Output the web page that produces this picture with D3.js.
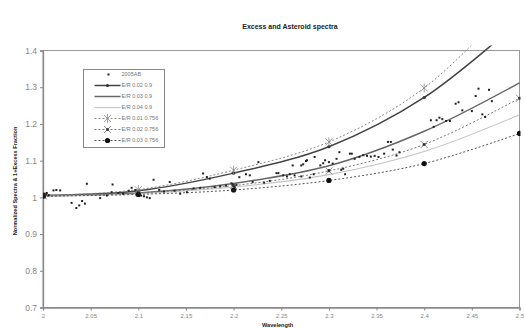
<!DOCTYPE html>
<html>
<head>
<meta charset="utf-8">
<script src="https://cdn.jsdelivr.net/npm/d3@7"></script>
<style>
  body { margin: 0; background: #fff; }
  svg { display: block; font-family: Arial, "Liberation Sans", sans-serif; }
</style>
</head>
<body>
<svg id="chart" width="524" height="328"></svg>
<script>
// asteroid 2005AB measured points [wavelength, value]
var asteroid = [
  [2.000, 1.005], [2.001, 1.010], [2.002, 1.002], [2.003, 1.008], [2.004, 1.012], [2.006, 1.006],
  [2.011, 1.019], [2.014, 1.020], [2.018, 1.019],
  [2.030, 0.985], [2.035, 0.971], [2.038, 0.978], [2.041, 0.990], [2.044, 0.983], [2.046, 1.037],
  [2.060, 0.998], [2.067, 1.005], [2.072, 1.014], [2.073, 1.035], [2.079, 1.012], [2.084, 1.010],
  [2.090, 1.018], [2.093, 1.026], [2.097, 1.020], [2.100, 1.012], [2.103, 1.005], [2.106, 1.003],
  [2.109, 1.000], [2.112, 0.998], [2.116, 1.048], [2.122, 1.020], [2.127, 1.016], [2.133, 1.042],
  [2.138, 1.018], [2.144, 1.010], [2.151, 1.014], [2.158, 1.024], [2.165, 1.026], [2.168, 1.065],
  [2.172, 1.055], [2.175, 1.051], [2.180, 1.028], [2.186, 1.030], [2.192, 1.032], [2.198, 1.038],
  [2.199, 1.035], [2.200, 1.020], [2.201, 1.028], [2.203, 1.034],
  [2.206, 1.055], [2.213, 1.063], [2.217, 1.060], [2.220, 1.042], [2.226, 1.096],
  [2.232, 1.040], [2.238, 1.045], [2.245, 1.066], [2.247, 1.066], [2.252, 1.060], [2.256, 1.057],
  [2.259, 1.063], [2.262, 1.087], [2.264, 1.060], [2.271, 1.087], [2.271, 1.057], [2.273, 1.090],
  [2.276, 1.099], [2.277, 1.101], [2.280, 1.054], [2.284, 1.063], [2.285, 1.110], [2.291, 1.087],
  [2.294, 1.093], [2.296, 1.101], [2.300, 1.074], [2.300, 1.096], [2.304, 1.092], [2.308, 1.105],
  [2.311, 1.123], [2.313, 1.075], [2.315, 1.078], [2.317, 1.063], [2.322, 1.119], [2.324, 1.119],
  [2.327, 1.105], [2.332, 1.110], [2.336, 1.115], [2.340, 1.113], [2.344, 1.111], [2.348, 1.113],
  [2.352, 1.110], [2.358, 1.119], [2.362, 1.151], [2.365, 1.151], [2.367, 1.130], [2.371, 1.114],
  [2.374, 1.123],
  [2.407, 1.210], [2.410, 1.192], [2.413, 1.210], [2.416, 1.217], [2.419, 1.213], [2.423, 1.208],
  [2.427, 1.208], [2.433, 1.255], [2.436, 1.259], [2.440, 1.237], [2.450, 1.235], [2.454, 1.276],
  [2.457, 1.296], [2.461, 1.226], [2.464, 1.219], [2.468, 1.293], [2.471, 1.262]
];

// model curves, sampled every 0.1 um
var modelX = [2.0, 2.1, 2.2, 2.3, 2.4, 2.5];
var er002_09 = [1.005, 1.018, 1.066, 1.138, 1.272, 1.480];
var er003_09 = [1.005, 1.012, 1.038, 1.086, 1.180, 1.312];
var er004_09 = [1.003, 1.010, 1.028, 1.062, 1.125, 1.225];
var er001_0756 = [1.005, 1.021, 1.074, 1.151, 1.298, 1.550];
var er002_0756 = [1.004, 1.012, 1.032, 1.072, 1.144, 1.270];
var er003_0756 = [1.003, 1.008, 1.020, 1.046, 1.092, 1.174];

var seriesNames = ["2005AB", "E/R 0.02 0.9", "E/R 0.03 0.9", "E/R 0.04 0.9",
  "E/R 0.01 0.756", "E/R 0.02 0.756", "E/R 0.03 0.756"];

var xTicks = [2, 2.05, 2.1, 2.15, 2.2, 2.25, 2.3, 2.35, 2.4, 2.45, 2.5];
var yTicks = [0.7, 0.8, 0.9, 1, 1.1, 1.2, 1.3, 1.4];

var svg = d3.select("#chart");
var plotLeft = 43, plotRight = 519.5, plotTop = 50.5, plotBottom = 307.5;

var x = d3.scaleLinear().domain([2, 2.5]).range([plotLeft, plotRight]);
var y = d3.scaleLinear().domain([0.7, 1.4]).range([plotBottom, plotTop]);

var models = [
  { name: seriesNames[1], v: er002_09, stroke: "#444", w: 1.5, dash: null, marker: "dot" },
  { name: seriesNames[2], v: er003_09, stroke: "#666", w: 1.5, dash: null, marker: null },
  { name: seriesNames[3], v: er004_09, stroke: "#c4c4c4", w: 1.1, dash: null, marker: null },
  { name: seriesNames[4], v: er001_0756, stroke: "#8a8a8a", w: 1, dash: "2,2", marker: "star" },
  { name: seriesNames[5], v: er002_0756, stroke: "#777", w: 1, dash: "2,2", marker: "xsq" },
  { name: seriesNames[6], v: er003_0756, stroke: "#555", w: 1, dash: "2,2", marker: "circle" }
];

// frame
svg.append("rect").attr("x", plotLeft).attr("y", plotTop)
  .attr("width", plotRight - plotLeft).attr("height", plotBottom - plotTop)
  .attr("fill", "none").attr("stroke", "#999").attr("stroke-width", 1);

// title + axis titles
svg.append("text").attr("x", 290).attr("y", 29).attr("text-anchor", "middle")
  .style("font-size", "7px").style("font-weight", "bold").attr("fill", "#222")
  .text("Excess and Asteroid spectra");
svg.append("text").attr("transform", "translate(17,181)rotate(-90)")
  .attr("text-anchor", "middle").style("font-size", "5.6px").style("font-weight", "bold")
  .attr("fill", "#222").text("Normalized Spectra & 1+Excess Fraction");
svg.append("text").attr("x", 262).attr("y", 327)
  .style("font-size", "5.6px").style("font-weight", "bold").attr("fill", "#222")
  .text("Wavelength");

// axes
var yAxis = svg.append("g").attr("transform", "translate(" + plotLeft + ",0)")
  .call(d3.axisLeft(y).tickValues(yTicks).tickSize(3).tickFormat(d3.format("")));
yAxis.selectAll("text").style("font-size", "8.5px").attr("fill", "#888").attr("x", -6);
var xAxis = svg.append("g").attr("transform", "translate(0," + plotBottom + ")")
  .call(d3.axisBottom(x).tickValues(xTicks).tickSize(3).tickFormat(d3.format("")));
xAxis.selectAll("text").style("font-size", "6px").attr("fill", "#888").attr("y", 6);
svg.selectAll(".domain").attr("stroke", "#888").attr("stroke-width", 1.3);
svg.selectAll(".tick line").attr("stroke", "#888");

// clip for curves running off the top
svg.append("clipPath").attr("id", "clip").append("rect")
  .attr("x", plotLeft).attr("y", plotTop - 5)
  .attr("width", plotRight - plotLeft + 1).attr("height", plotBottom - plotTop + 5);

var line = d3.line()
  .x(function (d) { return x(d[0]); })
  .y(function (d) { return y(d[1]); })
  .curve(d3.curveCatmullRom);

var plot = svg.append("g").attr("clip-path", "url(#clip)");

function drawMarker(g, type, cx, cy, color) {
  if (type === "dot") {
    g.append("circle").attr("cx", cx).attr("cy", cy).attr("r", 1.6).attr("fill", "#333");
  } else if (type === "circle") {
    g.append("circle").attr("cx", cx).attr("cy", cy).attr("r", 2.6).attr("fill", "#111");
  } else if (type === "star" || type === "xsq") {
    var s = 3.5;
    g.append("path")
      .attr("d", "M" + (cx - s) + "," + (cy - s) + "L" + (cx + s) + "," + (cy + s) +
        "M" + (cx - s) + "," + (cy + s) + "L" + (cx + s) + "," + (cy - s) +
        (type === "star" ? "M" + cx + "," + (cy - s - 1) + "L" + cx + "," + (cy + s + 1) : ""))
      .attr("stroke", color).attr("stroke-width", 0.8).attr("fill", "none");
    if (type === "xsq") {
      g.append("rect").attr("x", cx - 1.3).attr("y", cy - 1.3).attr("width", 2.6).attr("height", 2.6)
        .attr("fill", "#333");
    }
  }
}

models.forEach(function (m) {
  var pts = modelX.map(function (xv, i) { return [xv, m.v[i]]; });
  plot.append("path").datum(pts).attr("d", line)
    .attr("fill", "none").attr("stroke", m.stroke).attr("stroke-width", m.w)
    .attr("stroke-dasharray", m.dash);
  if (m.marker) {
    pts.forEach(function (p) {
      if (p[1] <= 1.4) drawMarker(plot, m.marker, x(p[0]), y(p[1]), m.stroke);
    });
  }
});

// asteroid dots
plot.selectAll(".pt").data(asteroid).enter().append("rect")
  .attr("class", "pt")
  .attr("x", function (d) { return x(d[0]) - 1; })
  .attr("y", function (d) { return y(d[1]) - 1; })
  .attr("width", 2).attr("height", 2)
  .attr("fill", "#222");

// legend
var lg = svg.append("g").attr("transform", "translate(83.5,69.5)");
lg.append("rect").attr("width", 81).attr("height", 78)
  .attr("fill", "#fff").attr("stroke", "#888").attr("stroke-width", 1);
var rowY = function (i) { return 5 + i * 11; };
lg.append("rect").attr("x", 24).attr("y", rowY(0) - 1).attr("width", 2).attr("height", 2).attr("fill", "#222");
lg.append("text").attr("x", 38).attr("y", rowY(0)).attr("dy", "0.35em")
  .style("font-size", "5.5px").attr("fill", "#777").text(seriesNames[0]);
models.forEach(function (m, i) {
  var yy = rowY(i + 1);
  lg.append("line").attr("x1", 11).attr("x2", 37).attr("y1", yy).attr("y2", yy)
    .attr("stroke", m.stroke).attr("stroke-width", m.w).attr("stroke-dasharray", m.dash);
  if (m.marker) drawMarker(lg, m.marker, 24, yy, m.stroke);
  lg.append("text").attr("x", 38).attr("y", yy).attr("dy", "0.35em")
    .style("font-size", "5.5px").attr("fill", "#777").text(m.name);
});
</script>
</body>
</html>
